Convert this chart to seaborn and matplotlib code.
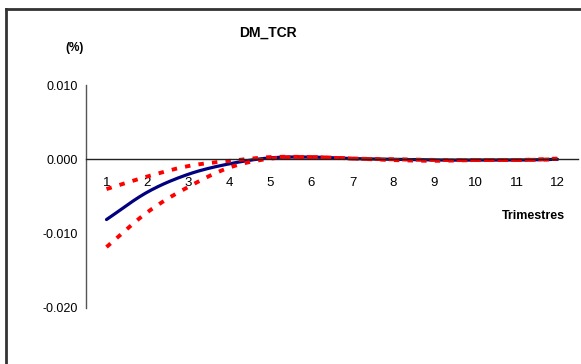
import numpy as np
import pandas as pd
import matplotlib
matplotlib.use("Agg")
import matplotlib.pyplot as plt
from matplotlib.lines import Line2D
import seaborn as sns

# ---- data ----
quarters = [1, 2, 3, 4, 5, 6, 7, 8, 9, 10, 11, 12]
tick_labels = [str(q) for q in quarters]
dm_tcr = [-0.0081, -0.0044, -0.0020, -0.0006, 0.0002, 0.0003, 0.0001, 0.0000, -0.0001, -0.0001, -0.0001, 0.0000]
upper_band = [-0.0040, -0.0023, -0.0009, -0.0002, 0.0003, 0.0003, 0.0001, 0.0000, -0.0001, -0.0001, -0.0001, 0.0001]
lower_band = [-0.0118, -0.0071, -0.0037, -0.0011, 0.0001, 0.0003, 0.0001, -0.0001, -0.0002, -0.0001, -0.0001, 0.0000]
y_ticks = [0.010, 0.000, -0.010, -0.020]


def smooth(xs, ys, n=20):
    """Catmull-Rom smoothing (like Excel's smoothed line) through the points."""
    xs = np.asarray(xs, float)
    ys = np.asarray(ys, float)
    k = len(xs)
    out_x, out_y = [], []
    for i in range(k - 1):
        p0, p1 = ys[i], ys[i + 1]
        m0 = (ys[i + 1] - ys[i - 1]) / 2 if i > 0 else (ys[1] - ys[0])
        m1 = (ys[i + 2] - ys[i]) / 2 if i + 2 < k else (ys[-1] - ys[-2])
        t = np.linspace(0, 1, n, endpoint=(i == k - 2))
        h00 = 2 * t**3 - 3 * t**2 + 1
        h10 = t**3 - 2 * t**2 + t
        h01 = -2 * t**3 + 3 * t**2
        h11 = t**3 - t**2
        out_y.append(h00 * p0 + h10 * m0 + h01 * p1 + h11 * m1)
        out_x.append(xs[i] + t * (xs[i + 1] - xs[i]))
    return np.concatenate(out_x), np.concatenate(out_y)


sns.set_style("white")
plt.rcParams["font.family"] = ["Liberation Sans", "DejaVu Sans"]
plt.rcParams["text.color"] = "black"
plt.rcParams["xtick.color"] = "black"
plt.rcParams["ytick.color"] = "black"

W, H = 581, 364
fig = plt.figure(figsize=(W / 100, H / 100), dpi=100)
ax = fig.add_axes([86 / W, 1 - 308 / H, (578 - 86) / W, (308 - 85) / H])

frames = []
for name, vals in [("DM_TCR", dm_tcr), ("upper", upper_band), ("lower", lower_band)]:
    sx, sy = smooth(quarters, vals)
    frames.append(pd.DataFrame({"x": sx, "y": sy, "serie": name}))
df = pd.concat(frames, ignore_index=True)

sns.lineplot(data=df[df.serie == "DM_TCR"], x="x", y="y", ax=ax,
             color="#000080", linewidth=2.3, sort=False, estimator=None)
for nm in ["upper", "lower"]:
    sns.lineplot(data=df[df.serie == nm], x="x", y="y", ax=ax,
                 color="#FF0000", linewidth=2.8, sort=False, estimator=None,
                 dashes=False, linestyle=(0, (1.4, 2.1)))

ax.set_xlim(0.5, 12.5)
ax.set_ylim(-0.020, 0.010)
ax.set_xlabel("")
ax.set_ylabel("")

for s in ["top", "right"]:
    ax.spines[s].set_visible(False)
ax.spines["bottom"].set_position(("data", 0))
ax.spines["bottom"].set_color("#222222")
ax.spines["left"].set_color("#555555")
ax.spines["bottom"].set_linewidth(1.0)
ax.spines["left"].set_linewidth(1.0)

ax.set_yticks(y_ticks)
ax.set_yticklabels([f"{v:.3f}" for v in y_ticks], fontsize=9)
ax.tick_params(axis="y", direction="out", length=4, width=1, color="#555555",
               labelcolor="black", pad=2)

ax.set_xticks(np.arange(0.5, 13, 1))
ax.set_xticklabels([])
ax.tick_params(axis="x", which="major", direction="out", length=4, width=1, color="#222222")
ax.set_xticks(quarters, minor=True)
ax.set_xticklabels(tick_labels, minor=True, fontsize=9.5)
ax.tick_params(axis="x", which="minor", length=0, pad=12.5, labelcolor="black")

fig.text(268 / W, 1 - 33 / H, "DM_TCR", ha="center", va="center",
         fontsize=10, fontweight="bold", color="black")
fig.text(75 / W, 1 - 48 / H, "(%)", ha="center", va="center",
         fontsize=8.5, fontweight="bold", color="black")
fig.text(533 / W, 1 - 216 / H, "Trimestres", ha="center", va="center",
         fontsize=9, fontweight="bold", color="black")

# outer chart frame (only its left and top edges are inside the picture)
fx, fy = 6 / W, 1 - 8.5 / H
fig.add_artist(Line2D([fx, fx], [-0.05, fy], transform=fig.transFigure,
                      color="#333333", linewidth=2, solid_capstyle="projecting"))
fig.add_artist(Line2D([fx, 1.05], [fy, fy], transform=fig.transFigure,
                      color="#333333", linewidth=2, solid_capstyle="projecting"))

fig.savefig("out.png", dpi=100)
